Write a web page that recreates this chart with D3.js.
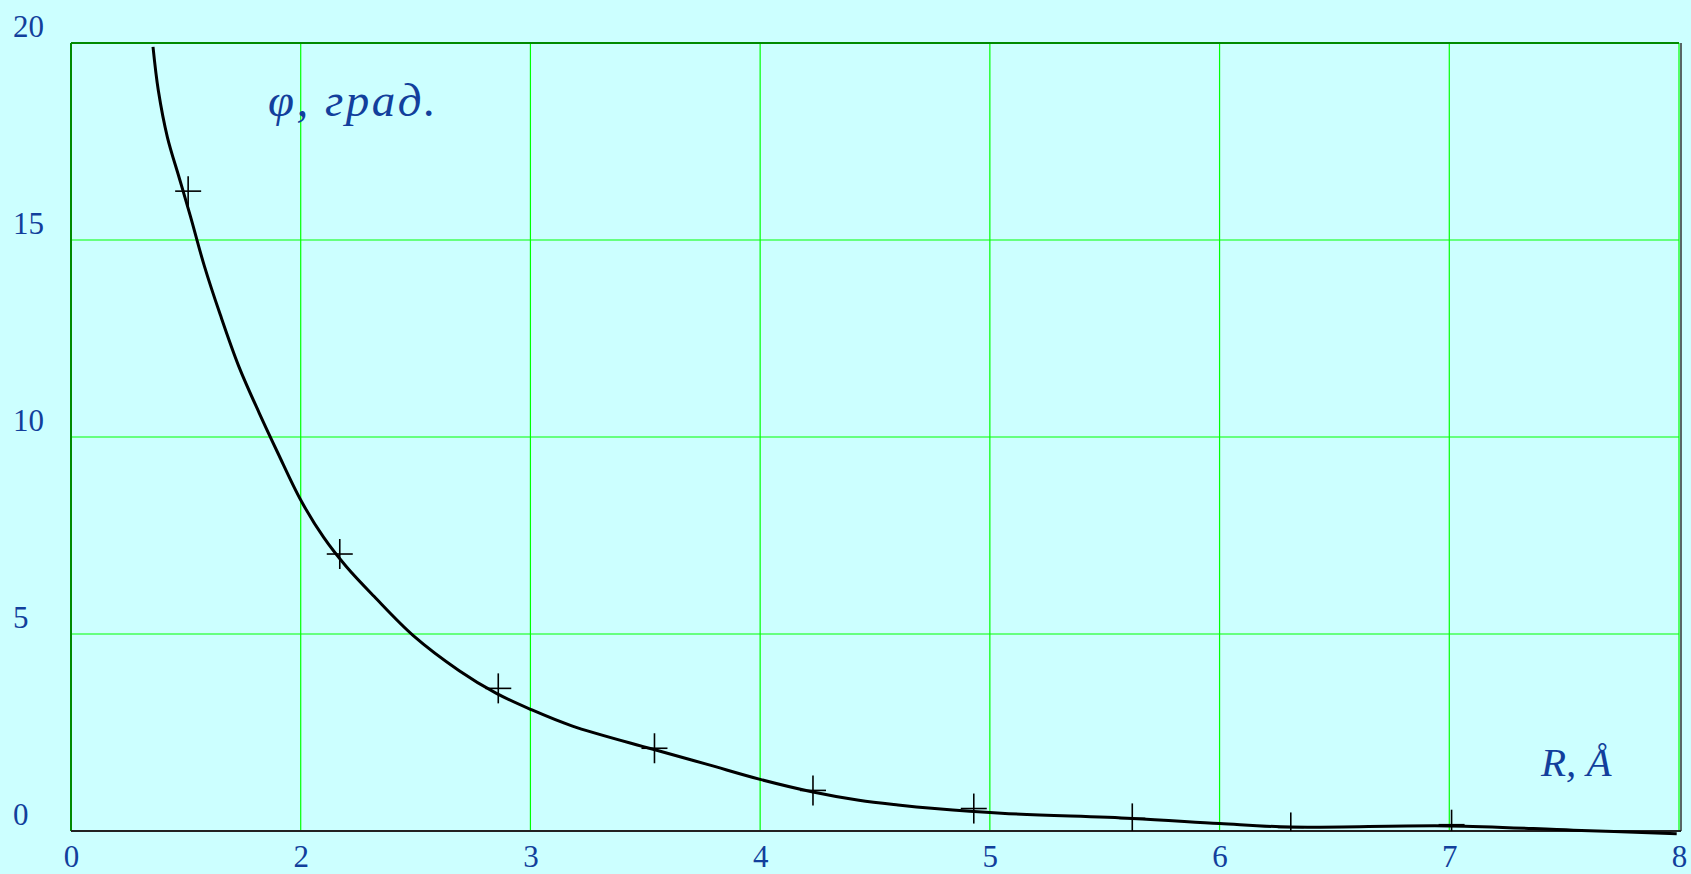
<!DOCTYPE html>
<html>
<head>
<meta charset="utf-8">
<script src="https://cdn.jsdelivr.net/npm/d3@7"></script>
<style>
  html, body { margin: 0; padding: 0; background: #ccffff; overflow: hidden; }
  svg { display: block; }
  .lbl { font-family: "Liberation Serif", "Times New Roman", serif; fill: #123f9c; }
</style>
</head>
<body>
<svg id="chart" width="1691" height="874"></svg>
<script>
// measured points (crosses)
const pointR = [1.51, 2.17, 2.86, 3.54, 4.23, 4.93, 5.62, 6.31, 7.01];
const pointPhi = [16.24, 7.03, 3.62, 2.1, 1.03, 0.57, 0.32, 0.09, 0.16];

// fitted curve
const curveR = [1.357, 1.38, 1.42, 1.47, 1.52, 1.58, 1.65, 1.73, 1.82, 1.9, 2.0, 2.1, 2.2, 2.32,
  2.49, 2.69, 2.85, 3.0, 3.18, 3.53, 3.77, 4.0, 4.23, 4.43, 4.6, 4.76, 5.05, 5.62, 6.0, 6.31, 7.0, 7.54, 7.99];
const curvePhi = [19.9, 18.8, 17.6, 16.6, 15.6, 14.35, 13.1, 11.8, 10.6, 9.6, 8.4, 7.45, 6.7, 5.95,
  4.96, 4.07, 3.5, 3.09, 2.67, 2.08, 1.69, 1.31, 0.99, 0.78, 0.66, 0.57, 0.45, 0.32, 0.19, 0.1, 0.13, 0.02, -0.07];

const xTickValues = [1, 2, 3, 4, 5, 6, 7, 8];
const xTickLabels = ["0", "2", "3", "4", "5", "6", "7", "8"];
const yTickValues = [0, 5, 10, 15, 20];
const yTickLabels = ["0", "5", "10", "15", "20"];

const svg = d3.select("#chart");
const plotL = 71, plotR = 1679, plotT = 43, plotB = 831;

const x = d3.scaleLinear().domain([1, 8]).range([plotL, plotR]);
const y = d3.scaleLinear().domain([0, 20]).range([plotB, plotT]);

// grid
svg.append("g")
  .selectAll("line")
  .data(xTickValues.slice(1))
  .enter().append("line")
  .attr("x1", d => x(d)).attr("x2", d => x(d))
  .attr("y1", plotT).attr("y2", plotB)
  .attr("stroke", "#00ff00").attr("stroke-width", 1.2);

svg.append("g")
  .selectAll("line")
  .data(yTickValues.slice(1, -1))
  .enter().append("line")
  .attr("x1", plotL).attr("x2", plotR)
  .attr("y1", d => y(d)).attr("y2", d => y(d))
  .attr("stroke", "#00ff00").attr("stroke-width", 1.2);

// frame
svg.append("line").attr("x1", plotL).attr("x2", plotR).attr("y1", plotT).attr("y2", plotT)
  .attr("stroke", "#008a00").attr("stroke-width", 2);
svg.append("line").attr("x1", plotL).attr("x2", plotL).attr("y1", plotT).attr("y2", plotB)
  .attr("stroke", "#008a00").attr("stroke-width", 2);
svg.append("line").attr("x1", plotR + 2).attr("x2", plotR + 2).attr("y1", plotT).attr("y2", plotB)
  .attr("stroke", "#333").attr("stroke-width", 1.5);
svg.append("line").attr("x1", plotL).attr("x2", plotR + 2).attr("y1", plotB).attr("y2", plotB)
  .attr("stroke", "#222").attr("stroke-width", 2);

// axes labels through d3 axes
const xAxis = d3.axisBottom(x)
  .tickValues(xTickValues)
  .tickFormat((d, i) => xTickLabels[i])
  .tickSize(0);
const gx = svg.append("g").attr("transform", `translate(0,${plotB})`).call(xAxis);
gx.select(".domain").remove();
gx.attr("font-family", null).attr("font-size", null);
gx.selectAll("text")
  .attr("class", "lbl")
  .attr("y", 36).attr("dy", 0)
  .style("font-size", "31px");

const yAxis = d3.axisLeft(y)
  .tickValues(yTickValues)
  .tickFormat((d, i) => yTickLabels[i])
  .tickSize(0);
const gy = svg.append("g").call(yAxis);
gy.select(".domain").remove();
gy.attr("font-family", null).attr("font-size", null).attr("text-anchor", null);
gy.selectAll("text")
  .attr("class", "lbl")
  .attr("x", 13).attr("dy", -7)
  .attr("text-anchor", "start")
  .style("font-size", "31px");

// curve
const line = d3.line()
  .x(d => x(d[0]))
  .y(d => y(d[1]))
  .curve(d3.curveCatmullRom.alpha(0.5));

svg.append("path")
  .datum(d3.zip(curveR, curvePhi))
  .attr("d", line)
  .attr("fill", "none")
  .attr("stroke", "#000")
  .attr("stroke-width", 3)
  .attr("stroke-linejoin", "round");

// crosses, clipped to plot area
svg.append("clipPath").attr("id", "plotClip")
  .append("rect").attr("x", plotL).attr("y", plotT)
  .attr("width", plotR - plotL).attr("height", plotB - plotT);

const crosses = svg.append("g").attr("clip-path", "url(#plotClip)")
  .selectAll("g")
  .data(d3.zip(pointR, pointPhi))
  .enter().append("g")
  .attr("transform", d => `translate(${x(d[0])},${y(d[1])})`);

crosses.append("line").attr("x1", -13).attr("x2", 13).attr("y1", 0).attr("y2", 0)
  .attr("stroke", "#000").attr("stroke-width", 1.6);
crosses.append("line").attr("x1", 0).attr("x2", 0).attr("y1", -15).attr("y2", 15)
  .attr("stroke", "#000").attr("stroke-width", 1.6);

// titles
svg.append("text").attr("class", "lbl")
  .attr("x", 268).attr("y", 116)
  .style("font-size", "47px").style("font-style", "italic")
  .style("letter-spacing", "2.5px")
  .text("φ, град.");

svg.append("text").attr("class", "lbl")
  .attr("x", 1541).attr("y", 776)
  .style("font-size", "41px").style("font-style", "italic")
  .text("R, Å");
</script>
</body>
</html>
